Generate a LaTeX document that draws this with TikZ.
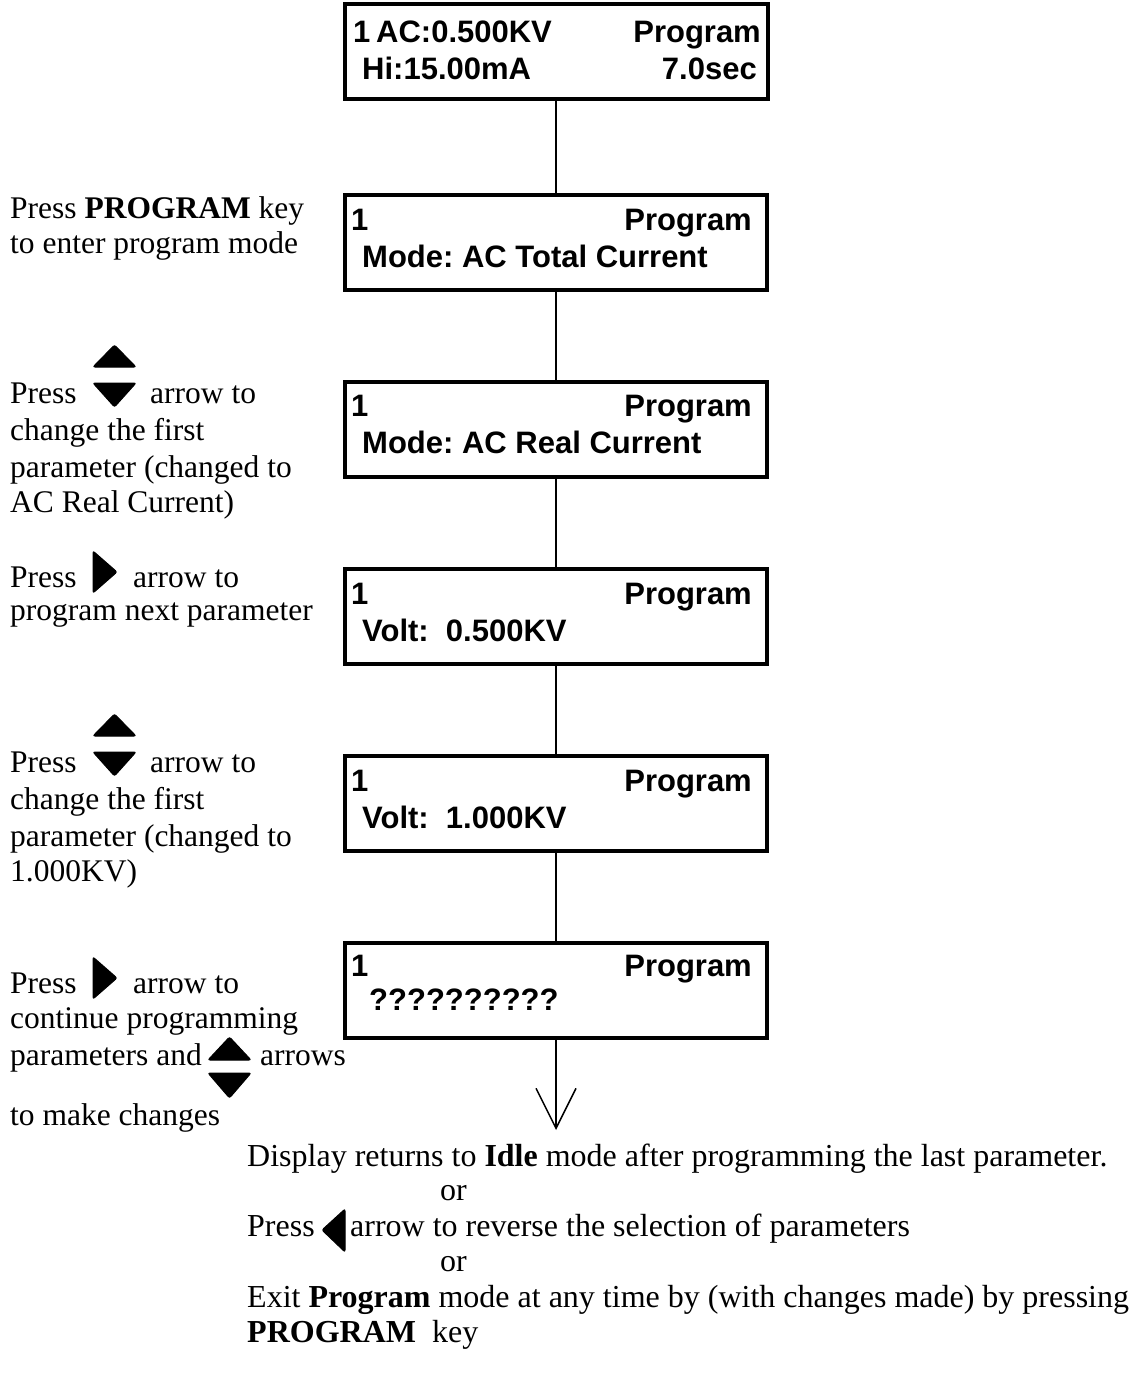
\documentclass[tikz,border=0pt]{standalone}
\usepackage{fontspec}
\setmainfont{Liberation Serif}
\newfontfamily\lcdfont{Liberation Sans}
\usetikzlibrary{arrows.meta}
\frenchspacing
\begin{document}
\begin{tikzpicture}[x=1pt,y=-1pt,
  lcd/.style={draw, line width=4pt, minimum width=422pt, minimum height=95pt, inner sep=0pt},
  lt/.style={anchor=base west, inner sep=0pt, font=\fontsize{31.5}{36}\selectfont},
  bt/.style={anchor=base west, inner sep=0pt, font=\fontsize{32}{36}\selectfont},
  lr/.style={anchor=base east, inner sep=0pt, font=\lcdfont\bfseries\fontsize{31}{36}\selectfont},
  ll/.style={anchor=base west, inner sep=0pt, font=\lcdfont\bfseries\fontsize{31}{36}\selectfont},
  conn/.style={line width=2pt},
  tri/.style={fill=black, draw=black, line width=1pt, rounded corners=2pt},
]
\useasboundingbox (0,0) rectangle (1136,1388);

% LCD boxes
\node[lcd, minimum width=423pt] (b1) at (556,52) {};
\node[lcd] (b2) at (556,242.5) {};
\node[lcd] (b3) at (556,429) {};
\node[lcd] (b4) at (556,616.5) {};
\node[lcd] (b5) at (556,803) {};
\node[lcd] (b6) at (556,990) {};

% box texts
\node[ll] (b1a) at (353,43) {1};
\node[ll] (b1b) at (376,43) {AC:0.500KV};
\node[lr] (b1c) at (761,43) {Program};
\node[ll] (b1d) at (362,80) {Hi:15.00mA};
\node[lr] (b1e) at (757,80) {7.0sec};

\node[ll] (b2a) at (351,230) {1};
\node[lr] (b2b) at (752,230) {Program};
\node[ll] (b2c) at (362,267) {Mode: AC Total Current};

\node[ll] (b3a) at (351,416) {1};
\node[lr] (b3b) at (752,416) {Program};
\node[ll] (b3c) at (362,453) {Mode: AC Real Current};

\node[ll] (b4a) at (351,604) {1};
\node[lr] (b4b) at (752,604) {Program};
\node[ll] (b4c) at (362,641) {Volt:\ \ 0.500KV};

\node[ll] (b5a) at (351,791) {1};
\node[lr] (b5b) at (752,791) {Program};
\node[ll] (b5c) at (362,828) {Volt:\ \ 1.000KV};

\node[ll] (b6a) at (351,976) {1};
\node[lr] (b6b) at (752,976) {Program};
\node[ll] (b6c) at (369,1010) {??????????};

% connectors
\draw[conn] (b1.south) -- (b2.north);
\draw[conn] (b2.south) -- (b3.north);
\draw[conn] (b3.south) -- (b4.north);
\draw[conn] (b4.south) -- (b5.north);
\draw[conn] (b5.south) -- (b6.north);
\coordinate (end) at (556,1130);
\draw[conn, -{Straight Barb[length=40pt,width=40pt,line width=1.5pt]}] (b6.south) -- (end);

% left notes
\node[lt] (n1a) at (10,219) {Press \textbf{PROGRAM} key};
\node[lt] (n1b) at (10,253) {to enter program mode};

\node[lt] (n2a) at (10,403) {Press};
\fill[tri] (93,367) -- (114.5,345) -- (136,367) -- cycle;
\fill[tri] (93,383) -- (114.5,407) -- (136,383) -- cycle;
\node[lt] (n2b) at (150,403) {arrow to};
\node[lt] (n2c) at (10,440) {change the first};
\node[lt] (n2d) at (10,477) {parameter (changed to};
\node[lt] (n2e) at (10,512) {AC Real Current)};

\node[lt] (n3a) at (10,587) {Press};
\fill[tri] (93,551) -- (117,572) -- (93,593) -- cycle;
\node[lt] (n3b) at (133,587) {arrow to};
\node[lt] (n3c) at (10,620) {program next parameter};

\node[lt] (n4a) at (10,772) {Press};
\fill[tri] (93,736) -- (114.5,714) -- (136,736) -- cycle;
\fill[tri] (93,752) -- (114.5,776) -- (136,752) -- cycle;
\node[lt] (n4b) at (150,772) {arrow to};
\node[lt] (n4c) at (10,809) {change the first};
\node[lt] (n4d) at (10,846) {parameter (changed to};
\node[lt] (n4e) at (10,881) {1.000KV)};

\node[lt] (n5a) at (10,993) {Press};
\fill[tri] (93,957) -- (117,978) -- (93,999) -- cycle;
\node[lt] (n5b) at (133,993) {arrow to};
\node[lt] (n5c) at (10,1028) {continue programming};
\node[lt] (n5d) at (10,1065) {parameters and};
\fill[tri] (208,1060) -- (229.5,1037) -- (251,1060) -- cycle;
\fill[tri] (208,1073) -- (229.5,1098) -- (251,1073) -- cycle;
\node[lt] (n5e) at (260,1065) {arrows};
\node[lt] (n5f) at (10,1125) {to make changes};

% bottom notes
\node[bt] (m1) at (247,1166) {Display returns to \textbf{Idle} mode after programming the last parameter.};
\node[bt] (m2) at (440,1200) {or};
\node[bt] (m3a) at (247,1236) {Press};
\fill[tri] (345,1209) -- (322,1230) -- (345,1252) -- cycle;
\node[bt] (m3b) at (350,1236) {arrow to reverse the selection of parameters};
\node[bt] (m4) at (440,1271) {or};
\node[bt] (m5) at (247,1307) {Exit \textbf{Program} mode at any time by (with changes made) by pressing};
\node[bt] (m6) at (247,1342) {\textbf{PROGRAM}\ \ key};
\end{tikzpicture}
\end{document}
